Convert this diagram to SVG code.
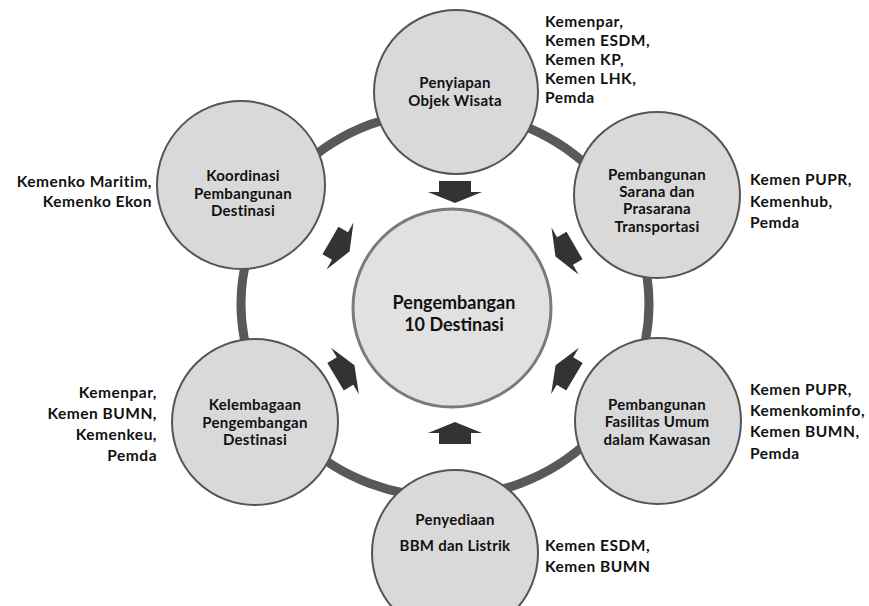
<svg xmlns="http://www.w3.org/2000/svg" width="869" height="606" viewBox="0 0 869 606">
<style>
.sat{fill:#d9d9d9;stroke:#555;stroke-width:2}
.ctr{fill:#e1e1e1;stroke:#7a7a7a;stroke-width:3}
.t{font-family:Lato,"Liberation Sans",sans-serif;font-weight:bold;font-size:15px;letter-spacing:0.25px;fill:#111;text-anchor:middle}
.tc{font-family:Lato,"Liberation Sans",sans-serif;font-weight:bold;font-size:18px;fill:#111;text-anchor:middle}
.l{font-family:Lato,"Liberation Sans",sans-serif;font-weight:bold;font-size:15.5px;letter-spacing:0.5px;fill:#111}
.r{text-anchor:end}
.arr{fill:#333}
</style>
<defs>
<path id="ah" d="M-11,-16 H0 V-27 L11,0 L0,27 V16 H-11 Z"/>
</defs>
<rect width="869" height="606" fill="#fff"/>
<g id="connectors">
<ellipse cx="445" cy="304" rx="204" ry="193" fill="none" stroke="#595959" stroke-width="9"/>
<use href="#ah" class="arr" transform="translate(455,192) rotate(90)"/>
<use href="#ah" class="arr" transform="translate(455,433) rotate(-90)"/>
<use href="#ah" class="arr" transform="translate(340,246) rotate(30)"/>
<use href="#ah" class="arr" transform="translate(565,251) rotate(150)"/>
<use href="#ah" class="arr" transform="translate(345,371) rotate(-31)"/>
<use href="#ah" class="arr" transform="translate(565,371) rotate(-149)"/>
</g>
<g id="center">
<circle class="ctr" cx="452" cy="308" r="99"/>
<text class="tc" x="454" y="309">Pengembangan</text>
<text class="tc" x="454" y="331">10 Destinasi</text>
</g>
<g id="n-top">
<circle class="sat" cx="456" cy="92" r="82"/>
<text class="t" x="455" y="88">Penyiapan</text>
<text class="t" x="455" y="106">Objek Wisata</text>
</g>
<g id="n-ur">
<circle class="sat" cx="657" cy="195" r="83"/>
<text class="t" x="657" y="180">Pembangunan</text>
<text class="t" x="657" y="197">Sarana dan</text>
<text class="t" x="657" y="214">Prasarana</text>
<text class="t" x="657" y="232">Transportasi</text>
</g>
<g id="n-lr">
<circle class="sat" cx="658" cy="421" r="83"/>
<text class="t" x="657" y="410">Pembangunan</text>
<text class="t" x="657" y="427">Fasilitas Umum</text>
<text class="t" x="657" y="445">dalam Kawasan</text>
</g>
<g id="n-bottom">
<circle class="sat" cx="455" cy="553" r="83"/>
<text class="t" x="455" y="525">Penyediaan</text>
<text class="t" x="455" y="551">BBM dan Listrik</text>
</g>
<g id="n-ll">
<circle class="sat" cx="255" cy="422" r="83"/>
<text class="t" x="255" y="410">Kelembagaan</text>
<text class="t" x="255" y="428">Pengembangan</text>
<text class="t" x="255" y="445">Destinasi</text>
</g>
<g id="n-ul">
<circle class="sat" cx="241" cy="185" r="84"/>
<text class="t" x="243" y="181">Koordinasi</text>
<text class="t" x="243" y="199">Pembangunan</text>
<text class="t" x="243" y="216">Destinasi</text>
</g>
<g id="labels">
<text class="l" x="545" y="27">Kemenpar,</text>
<text class="l" x="545" y="46">Kemen ESDM,</text>
<text class="l" x="545" y="65">Kemen KP,</text>
<text class="l" x="545" y="84">Kemen LHK,</text>
<text class="l" x="545" y="103">Pemda</text>
<text class="l r" x="152" y="187">Kemenko Maritim,</text>
<text class="l r" x="152" y="207">Kemenko Ekon</text>
<text class="l" x="750" y="185">Kemen PUPR,</text>
<text class="l" x="750" y="207">Kemenhub,</text>
<text class="l" x="750" y="228">Pemda</text>
<text class="l" x="750" y="395">Kemen PUPR,</text>
<text class="l" x="750" y="416">Kemenkominfo,</text>
<text class="l" x="750" y="437">Kemen BUMN,</text>
<text class="l" x="750" y="459">Pemda</text>
<text class="l r" x="157" y="398">Kemenpar,</text>
<text class="l r" x="157" y="419">Kemen BUMN,</text>
<text class="l r" x="157" y="440">Kemenkeu,</text>
<text class="l r" x="157" y="461">Pemda</text>
<text class="l" x="545" y="551">Kemen ESDM,</text>
<text class="l" x="545" y="572">Kemen BUMN</text>
</g>
</svg>
